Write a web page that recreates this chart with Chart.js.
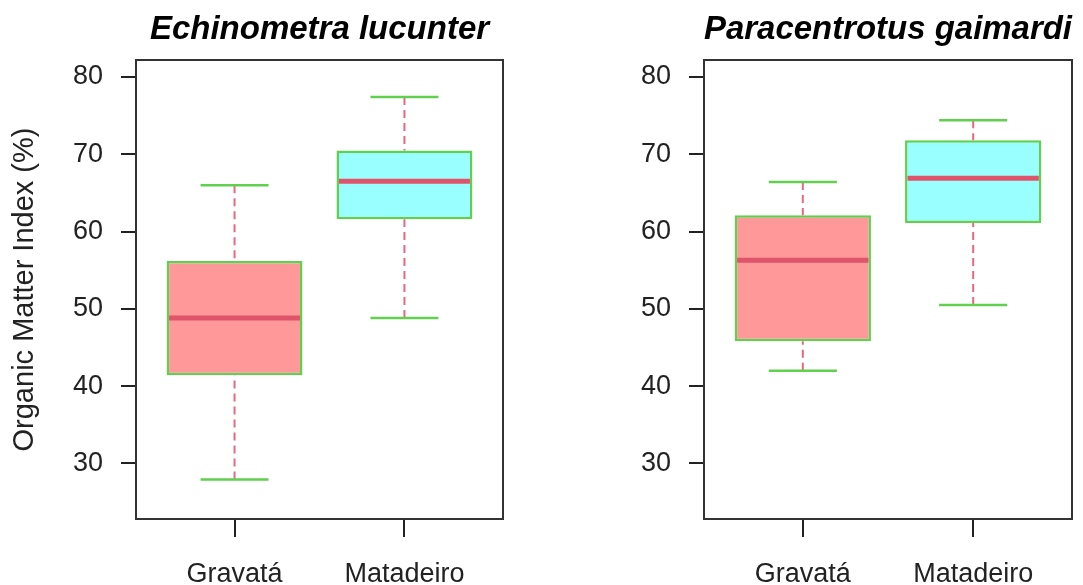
<!DOCTYPE html>
<html>
<head>
<meta charset="utf-8">
<script src="https://cdn.jsdelivr.net/npm/chart.js@4.4.1/dist/chart.umd.min.js"></script>
<style>
  html, body { margin: 0; padding: 0; background: #fff; }
  #wrap { position: relative; width: 1083px; height: 585px; overflow: hidden; }
  canvas { position: absolute; top: 0; }
  #left { left: 0; }
  #right { left: 541px; }
</style>
</head>
<body>
<div id="wrap">
  <canvas id="left" width="541" height="585"></canvas>
  <canvas id="right" width="542" height="585"></canvas>
</div>
<script>
const categories = ['Gravatá', 'Matadeiro'];
const yTicks = [30, 40, 50, 60, 70, 80];

// Echinometra lucunter
const lucunterMin = [27.9, 48.8];
const lucunterQ1 = [41.4, 61.6];
const lucunterMedian = [48.8, 66.5];
const lucunterQ3 = [56.2, 70.5];
const lucunterMax = [66.0, 77.4];

// Paracentrotus gaimardi
const gaimardiMin = [42.0, 50.5];
const gaimardiQ1 = [45.8, 61.1];
const gaimardiMedian = [56.3, 66.9];
const gaimardiQ3 = [62.1, 71.8];
const gaimardiMax = [66.4, 74.4];

const boxFills = ['#FF9999', '#99FFFF'];
const borderGreen = '#61D04F';
const medianRed = '#DF536B';
const whiskerPink = '#E46A80';
const axisInk = '#222222';
const fontFamily = '"Liberation Sans", Arial, Helvetica, sans-serif';

// whiskers, caps, medians and the frame, drawn through the chart's scales
function boxExtras(stats) {
  return {
    id: 'boxExtras',
    beforeDatasetsDraw(chart) {
      const { ctx, scales: { x, y } } = chart;
      ctx.save();
      stats.min.forEach((_, i) => {
        const cx = x.getPixelForValue(i + 1);
        const capL = x.getPixelForValue(i + 1 - 0.2);
        const capR = x.getPixelForValue(i + 1 + 0.2);
        ctx.strokeStyle = whiskerPink;
        ctx.lineWidth = 2;
        ctx.setLineDash([8, 5]);
        ctx.beginPath();
        ctx.moveTo(cx, y.getPixelForValue(stats.min[i]));
        ctx.lineTo(cx, y.getPixelForValue(stats.q1[i]));
        ctx.moveTo(cx, y.getPixelForValue(stats.max[i]));
        ctx.lineTo(cx, y.getPixelForValue(stats.q3[i]));
        ctx.stroke();
        ctx.setLineDash([]);
        ctx.strokeStyle = borderGreen;
        ctx.lineWidth = 2.5;
        ctx.beginPath();
        [stats.min[i], stats.max[i]].forEach(v => {
          const py = y.getPixelForValue(v);
          ctx.moveTo(capL, py);
          ctx.lineTo(capR, py);
        });
        ctx.stroke();
      });
      ctx.restore();
    },
    afterDatasetsDraw(chart) {
      const { ctx, chartArea, scales: { x, y } } = chart;
      ctx.save();
      ctx.strokeStyle = medianRed;
      ctx.lineWidth = 5;
      stats.median.forEach((m, i) => {
        const py = y.getPixelForValue(m);
        ctx.beginPath();
        ctx.moveTo(x.getPixelForValue(i + 1 - 0.4) + 2.5, py);
        ctx.lineTo(x.getPixelForValue(i + 1 + 0.4) - 2.5, py);
        ctx.stroke();
      });
      ctx.strokeStyle = '#333333';
      ctx.lineWidth = 2;
      ctx.strokeRect(chartArea.left, chartArea.top, chartArea.right - chartArea.left, chartArea.bottom - chartArea.top);
      ctx.restore();
    }
  };
}

function makePanel(canvasId, title, stats, yTitle, yWidth, padRight) {
  const ctx = document.getElementById(canvasId).getContext('2d');
  return new Chart(ctx, {
    type: 'bar',
    data: {
      datasets: [{
        xAxisID: 'x',
        yAxisID: 'y',
        data: categories.map((c, i) => ({ x: i + 1, y: [stats.q1[i], stats.q3[i]] })),
        backgroundColor: boxFills,
        borderColor: borderGreen,
        borderWidth: 2.5,
        borderSkipped: false,
        categoryPercentage: 1,
        barPercentage: 0.8
      }]
    },
    options: {
      responsive: false,
      animation: false,
      devicePixelRatio: 1,
      layout: { padding: { left: 0, right: padRight, top: 0, bottom: 0 } },
      plugins: { legend: { display: false }, tooltip: { enabled: false } },
      scales: {
        xTop: {
          type: 'linear', position: 'top', min: 0.42, max: 2.58,
          ticks: { display: false },
          grid: { display: false },
          border: { display: false },
          title: {
            display: true, text: title, color: '#000',
            font: { family: fontFamily, size: 33, weight: 'bold', style: 'italic' },
            padding: { top: 10, bottom: 0 }
          },
          afterFit: s => { s.height = 60; }
        },
        x: {
          type: 'linear', position: 'bottom', min: 0.42, max: 2.58,
          offset: false,
          afterBuildTicks: s => { s.ticks = categories.map((c, i) => ({ value: i + 1 })); },
          ticks: {
            callback: v => categories[v - 1],
            font: { family: fontFamily, size: 27 }, color: axisInk,
            padding: 21, maxRotation: 0, autoSkip: false
          },
          grid: { offset: false, drawOnChartArea: false, tickLength: 18, color: axisInk, lineWidth: 2 },
          border: { display: false },
          afterFit: s => { s.height = 66; }
        },
        y: {
          type: 'linear', min: 22.8, max: 82.2,
          afterBuildTicks: s => { s.ticks = yTicks.map(v => ({ value: v })); },
          ticks: { font: { family: fontFamily, size: 27 }, color: axisInk, padding: 18 },
          grid: { drawOnChartArea: false, tickLength: 15, color: axisInk, lineWidth: 2 },
          border: { display: false },
          title: {
            display: !!yTitle, text: yTitle || '', color: axisInk,
            font: { family: fontFamily, size: 29 },
            padding: { top: 8, bottom: 0 }
          },
          afterFit: s => { s.width = yWidth; }
        }
      }
    },
    plugins: [boxExtras(stats)]
  });
}

makePanel('left', 'Echinometra lucunter', {
  min: lucunterMin, q1: lucunterQ1, median: lucunterMedian, q3: lucunterQ3, max: lucunterMax
}, 'Organic Matter Index (%)', 136, 541 - 503);

makePanel('right', 'Paracentrotus gaimardi', {
  min: gaimardiMin, q1: gaimardiQ1, median: gaimardiMedian, q3: gaimardiQ3, max: gaimardiMax
}, null, 704 - 541, 542 - 531);
</script>
</body>
</html>
